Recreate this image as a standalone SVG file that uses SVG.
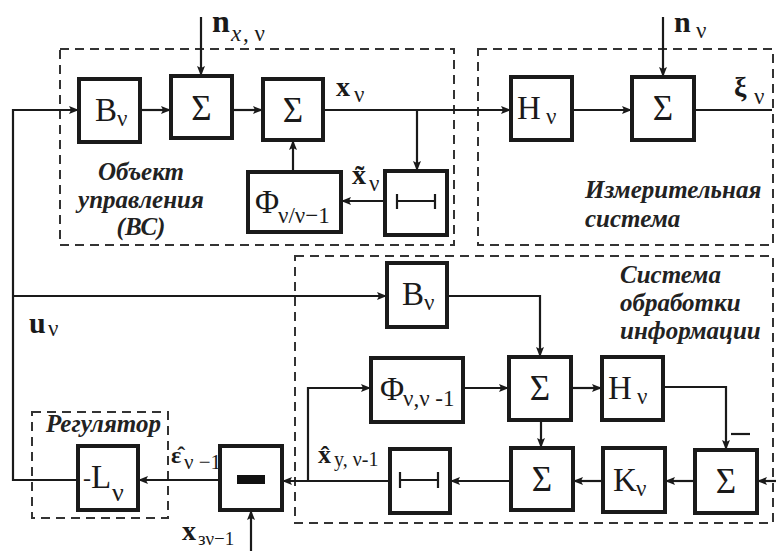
<svg xmlns="http://www.w3.org/2000/svg" width="776" height="551" viewBox="0 0 776 551">
<defs>
<marker id="ah" markerUnits="userSpaceOnUse" markerWidth="10" markerHeight="8" refX="10" refY="4" orient="auto">
<path d="M0,0 L10,4 L0,8 L2,4 Z" fill="#1a1a1a"/>
</marker>
<style>
.blk{fill:#fff;stroke:#1a1a1a;stroke-width:4}
.dash{fill:none;stroke:#333;stroke-width:2;stroke-dasharray:9,6}
.ln{fill:none;stroke:#1a1a1a;stroke-width:2.2}
.arr{fill:none;stroke:#1a1a1a;stroke-width:2.2;marker-end:url(#ah)}
.t{font-family:"Liberation Serif","Times New Roman",serif;fill:#1a1a1a}
.big{font-size:33px}
.sig{font-size:35px}
.sub{font-size:23px}
.lab{font-family:"Liberation Serif","Times New Roman",serif;font-style:italic;font-weight:bold;font-size:25px;fill:#222}
.b{font-weight:bold}
</style>
</defs>
<rect width="776" height="551" fill="#fff"/>

<g id="frames">
<rect class="dash" x="60" y="49" width="394" height="196"/>
<rect class="dash" x="478" y="49" width="295" height="196"/>
<rect class="dash" x="295" y="256" width="478" height="267"/>
<rect class="dash" x="32" y="412" width="136" height="106"/>
</g>

<g id="connectors">
<path class="arr" d="M78,480 H13 V110 H79"/>
<path class="arr" d="M140,110 H171"/>
<path class="arr" d="M201,17 V76"/>
<path class="arr" d="M232,110 H263"/>
<path class="arr" d="M323,110 H511"/>
<path class="arr" d="M417,110 V171"/>
<path class="arr" d="M385,201 H341"/>
<path class="arr" d="M293,172 V140"/>
<path class="arr" d="M572,110 H632"/>
<path class="arr" d="M663,17 V77"/>
<path class="ln" d="M694,110 H772"/>
<path class="arr" d="M13,296 H387"/>
<path class="arr" d="M447,296 H540 V357"/>
<path class="arr" d="M463,388 H509"/>
<path class="arr" d="M571,388 H602"/>
<path class="arr" d="M663,387 H726 V450"/>
<path class="arr" d="M776,481 H757"/>
<path class="arr" d="M695,481 H665"/>
<path class="arr" d="M603,481 H573"/>
<path class="arr" d="M541,420 V448"/>
<path class="arr" d="M511,481 H450"/>
<path class="arr" d="M390,481 H282"/>
<path class="arr" d="M308,481 V388 H371"/>
<path class="arr" d="M220,480 H138"/>
<path class="arr" d="M251,551 V510"/>
<path class="ln" d="M731,434 H750"/>
</g>

<g id="B1">
<rect class="blk" x="79" y="79" width="61" height="63"/>
<text class="t big" x="95" y="121">B</text><text class="t sub" x="117" y="126">ν</text>
</g>
<g id="S1">
<rect class="blk" x="171" y="76" width="61" height="62"/>
<text class="t sig" x="201.5" y="120" text-anchor="middle">Σ</text>
</g>
<g id="S2">
<rect class="blk" x="263" y="79" width="60" height="61"/>
<text class="t sig" x="293" y="122" text-anchor="middle">Σ</text>
</g>
<g id="Phi1">
<rect class="blk" x="248" y="172" width="93" height="60"/>
<text class="t big" x="255" y="213">Φ</text><text class="t sub" x="278" y="223">ν/ν−1</text>
</g>
<g id="D1">
<rect class="blk" x="385" y="171" width="62" height="64"/>
<path class="ln" d="M397,201 H435 M397,194 V209 M435,194 V209"/>
</g>
<g id="H1">
<rect class="blk" x="511" y="77" width="61" height="63"/>
<text class="t big" x="517" y="119">H</text><text class="t sub" x="546" y="124">ν</text>
</g>
<g id="S3">
<rect class="blk" x="632" y="77" width="62" height="63"/>
<text class="t sig" x="663" y="120" text-anchor="middle">Σ</text>
</g>

<g id="B2">
<rect class="blk" x="387" y="263" width="60" height="64"/>
<text class="t big" x="402" y="305">B</text><text class="t sub" x="424" y="310">ν</text>
</g>
<g id="Phi2">
<rect class="blk" x="371" y="358" width="92" height="64"/>
<text class="t big" x="380" y="400">Φ</text><text class="t sub" x="403" y="406">ν,ν -1</text>
</g>
<g id="S4">
<rect class="blk" x="509" y="357" width="62" height="63"/>
<text class="t sig" x="540" y="400" text-anchor="middle">Σ</text>
</g>
<g id="H2">
<rect class="blk" x="602" y="357" width="61" height="63"/>
<text class="t big" x="608" y="399">H</text><text class="t sub" x="637" y="404">ν</text>
</g>
<g id="S5">
<rect class="blk" x="695" y="450" width="62" height="63"/>
<text class="t sig" x="726" y="493" text-anchor="middle">Σ</text>
</g>
<g id="K">
<rect class="blk" x="603" y="448" width="62" height="64"/>
<text class="t big" x="613" y="491">K</text><text class="t sub" x="636" y="496">ν</text>
</g>
<g id="S6">
<rect class="blk" x="511" y="448" width="62" height="62"/>
<text class="t sig" x="542" y="491" text-anchor="middle">Σ</text>
</g>
<g id="D2">
<rect class="blk" x="390" y="449" width="60" height="64"/>
<path class="ln" d="M400,480 H438 M400,472 V488 M438,472 V488"/>
</g>
<g id="Minus">
<rect class="blk" x="220" y="446" width="62" height="64"/>
<rect x="237" y="475" width="28" height="9" fill="#111"/>
</g>
<g id="L">
<rect class="blk" x="78" y="446" width="60" height="64"/>
<text class="t" x="83" y="486" font-size="24">-</text><text class="t" x="91" y="488" font-size="33">L</text><text class="t" x="112" y="501" font-size="26">ν</text>
</g>

<g id="labels">
<text class="t b" x="212" y="32" font-size="32">n</text>
<text class="t" x="231" y="41" font-size="23" font-style="italic">x</text><text class="t" x="243" y="41" font-size="23">, ν</text>
<text class="t b" x="674" y="32" font-size="30">n</text><text class="t sub" x="696" y="38">ν</text>
<text class="t b" x="734" y="96" font-size="28">ξ</text><text class="t sub" x="754" y="104">ν</text>
<text class="t b" x="336" y="96" font-size="28">x</text><text class="t sub" x="354" y="102">ν</text>
<text class="t b" x="352" y="184" font-size="28">x̃</text><text class="t sub" x="369" y="191">ν</text>
<text class="t b" x="29" y="333" font-size="30">u</text><text class="t sub" x="48" y="336">ν</text>
<text class="t b" x="171" y="463" font-size="24">ε̂</text><text class="t" x="184" y="469" font-size="21">ν −1</text>
<text class="t b" x="318" y="463" font-size="26">x̂</text><text class="t" x="334" y="466" font-size="20">y, ν-1</text>
<text class="t b" x="182" y="540" font-size="28">x</text><text class="t" x="198" y="545" font-size="19">зν−1</text>
<text class="lab" x="141" y="180" text-anchor="middle">Объект</text>
<text class="lab" x="141" y="208" text-anchor="middle">управления</text>
<text class="lab" x="141" y="235" text-anchor="middle">(ВС)</text>
<text class="lab" x="585" y="198">Измерительная</text>
<text class="lab" x="585" y="227">система</text>
<text class="lab" x="620" y="283">Система</text>
<text class="lab" x="620" y="311">обработки</text>
<text class="lab" x="620" y="339">информации</text>
<text class="lab" x="46" y="432">Регулятор</text>
</g>
</svg>
